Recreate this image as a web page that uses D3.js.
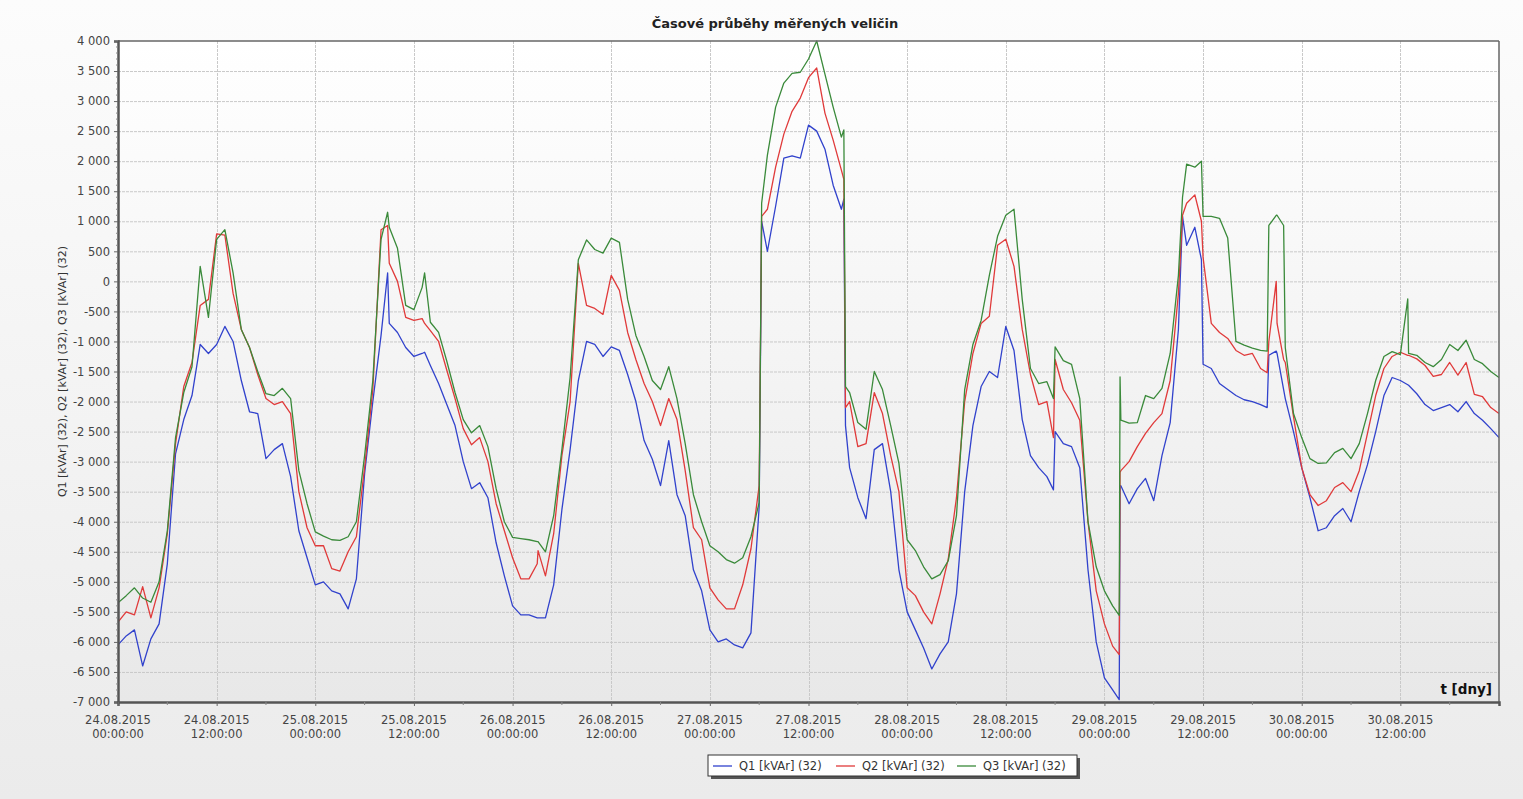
<!DOCTYPE html>
<html><head><meta charset="utf-8">
<script src="https://cdn.jsdelivr.net/npm/d3@7"></script>
<style>
html,body{margin:0;padding:0;background:#f0f0f0;}
body{width:1523px;height:799px;overflow:hidden;}
text{font-family:"DejaVu Sans",Verdana,sans-serif;}
</style></head><body>
<svg id="chart" width="1523" height="799"></svg>
<script>
const chartTitle = "Časové průběhy měřených veličin";
const yTitle = "Q1 [kVAr] (32), Q2 [kVAr] (32), Q3 [kVAr] (32)";
const xTitle = "t [dny]";
const seriesNames = ["Q1 [kVAr] (32)", "Q2 [kVAr] (32)", "Q3 [kVAr] (32)"];
const seriesColors = ["#3142cc", "#e03a3a", "#3a8a3a"];
const yTicks = d3.range(-7000, 4001, 500);
const startTime = new Date(2015, 7, 24, 0, 0, 0);
const endTime = new Date(2015, 7, 31, 0, 0, 0);

// hourly samples, hour 0 .. 168 from 24.08.2015 00:00
const hours = d3.range(0, 169);
const q1 = [
-6050,-5900,-5800,-6400,-5950,-5700,-4700,-2870,-2300,-1900,
-1050,-1200,-1050,-750,-1000,-1650,-2170,-2200,-2950,-2800,
-2700,-3250,-4150,-4600,-5050,-5000,-5150,-5200,-5450,-4950,
-3200,-2000,-900,-700,-850,-1100,-1250,-1200,-1400,-1700,
-2050,-2400,-3000,-3450,-3350,-3600,-4350,-4900,-5400,-5550,
-5550,-5600,-5600,-5050,-3800,-2800,-1650,-1000,-1050,-1250,
-1090,-1150,-1550,-2000,-2650,-2960,-3400,-2650,-3550,-3900,
-4800,-5150,-5800,-6000,-5950,-6050,-6100,-5850,-3750,500,
1250,2050,2090,2050,2600,2500,2200,1600,1200,-3100,
-3600,-3950,-2800,-2700,-3500,-4800,-5500,-5800,-6100,-6450,
-6200,-6000,-5200,-3500,-2400,-1750,-1500,-1600,-750,-1150,
-2300,-2900,-3100,-3250,-2500,-2700,-2750,-3100,-4800,-6000,
-6600,-6800,-3400,-3700,-3450,-3280,-3650,-2900,-2350,-800,
600,900,-1380,-1450,-1700,-1800,-1900,-1970,-2000,-2050,
-1230,-1200,-1950,-2500,-3100,-3600,-4150,-4100,-3900,-3780,
-4000,-3500,-3050,-2500,-1900,-1600,-1650,-1730,-1870,-2050,
-2150,-2100,-2050,-2170,-2000,-2200,-2310,-2450,-2600
];
const q2 = [
-5670,-5500,-5550,-5080,-5600,-5100,-4200,-2700,-1750,-1350,
-400,-300,790,770,-200,-800,-1100,-1550,-1950,-2050,
-2000,-2200,-3500,-4100,-4400,-4400,-4780,-4820,-4500,-4250,
-3100,-1800,860,300,0,-600,-650,-620,-820,-1000,
-1480,-1950,-2450,-2720,-2600,-3000,-3700,-4150,-4600,-4950,
-4950,-4700,-4900,-4200,-2900,-2000,300,-400,-450,-550,
100,-150,-850,-1300,-1700,-2000,-2400,-1950,-2300,-3150,
-4100,-4300,-5100,-5300,-5450,-5450,-5050,-4450,-3400,1200,
1900,2450,2830,3050,3390,3550,2800,2350,1850,-2000,
-2750,-2700,-1850,-2200,-2900,-3500,-5100,-5230,-5500,-5700,
-5200,-4620,-3600,-2000,-1200,-700,-580,600,700,250,
-800,-1550,-2050,-2000,-1300,-1800,-2020,-2310,-4000,-5150,
-5700,-6070,-3150,-3000,-2750,-2530,-2350,-2200,-1650,-200,
1300,1440,400,-700,-850,-950,-1150,-1230,-1200,-1450,
-1000,-700,-1350,-2250,-3100,-3550,-3730,-3650,-3430,-3350,
-3500,-3150,-2530,-1900,-1450,-1250,-1180,-1230,-1290,-1400,
-1580,-1550,-1350,-1560,-1350,-1880,-1920,-2100,-2200
];
const q3 = [
-5350,-5230,-5100,-5270,-5340,-5000,-4150,-2600,-1850,-1420,
250,-600,700,860,140,-800,-1100,-1500,-1870,-1900,
-1780,-1950,-3150,-3700,-4170,-4240,-4300,-4310,-4250,-4000,
-2900,-1650,700,900,550,-400,-470,-100,-680,-850,
-1330,-1850,-2300,-2520,-2400,-2750,-3450,-4000,-4260,-4280,
-4300,-4330,-4500,-3900,-2800,-1600,360,690,530,470,
720,650,-300,-900,-1250,-1650,-1800,-1420,-1950,-2700,
-3550,-4000,-4400,-4500,-4630,-4690,-4600,-4250,-3680,2100,
2900,3300,3460,3480,3700,4000,3450,2900,2400,-1850,
-2350,-2460,-1500,-1800,-2400,-3030,-4300,-4480,-4750,-4950,
-4880,-4650,-3900,-1800,-1050,-650,100,750,1100,1200,
-300,-1450,-1700,-1670,-1090,-1320,-1380,-1950,-4000,-4750,
-5150,-5400,-2310,-2360,-2350,-1900,-1950,-1780,-1200,100,
1950,1900,1080,1080,1050,720,-1000,-1060,-1110,-1150,
930,1100,-1100,-2200,-2600,-2950,-3030,-3020,-2850,-2780,
-2950,-2700,-2200,-1650,-1250,-1170,-1220,-1200,-1230,-1350,
-1420,-1300,-1050,-1150,-980,-1300,-1370,-1500,-1600
];
// extra samples at jumps and spikes (hours)
const extraHours = [32.8, 37.3, 51.1, 78.3, 88.3, 88.5, 113.8, 121.8, 121.9, 129.5, 131.8, 139.8, 140.9, 141.8, 156.9];
const q1Extra = [140, -1180, -5600, 1000, 1370, -2400, -3470, -6960, -3400, 1080, 360, -2100, -1160, -1800, -1720];
const q2Extra = [930, -700, -4480, 1080, 1700, -2100, -2600, -6210, -3180, 1100, 1000, -1520, 0, -1300, -1230];
const q3Extra = [1150, 140, -4330, 1300, 2520, -1750, -1950, -5560, -1590, 1400, 2000, -1160, 1100, 930, -290];

const W = 1523, H = 799;
const L = 118, R = 1499, T = 41, B = 702;

const svg = d3.select("#chart");
const defs = svg.append("defs");
const g1 = defs.append("linearGradient").attr("id", "bgGrad").attr("x1", 0).attr("y1", 0).attr("x2", 0).attr("y2", 1);
g1.append("stop").attr("offset", "0%").attr("stop-color", "#fcfcfc");
g1.append("stop").attr("offset", "100%").attr("stop-color", "#ebebeb");
const g2 = defs.append("linearGradient").attr("id", "plotGrad").attr("x1", 0).attr("y1", 0).attr("x2", 0).attr("y2", 1);
g2.append("stop").attr("offset", "0%").attr("stop-color", "#ffffff");
g2.append("stop").attr("offset", "100%").attr("stop-color", "#e8e8e8");
defs.append("clipPath").attr("id", "plotClip").append("rect")
  .attr("x", L).attr("y", T - 1).attr("width", R - L).attr("height", B - T + 1);

svg.append("rect").attr("width", W).attr("height", H).attr("fill", "url(#bgGrad)");
svg.append("rect").attr("x", L).attr("y", T).attr("width", R - L).attr("height", B - T).attr("fill", "url(#plotGrad)");

const x = d3.scaleTime().domain([startTime, endTime]).range([L, R]);
const y = d3.scaleLinear().domain([-7000, 4000]).range([B, T]);

const locale = d3.formatLocale({decimal: ",", thousands: " ", grouping: [3], currency: ["", ""], minus: "-"});
const fmtY = locale.format(",d");
const fmtDate = d3.timeFormat("%d.%m.%Y");
const fmtTime = d3.timeFormat("%H:%M:%S");

const xMajor = d3.timeHour.every(12).range(startTime, endTime);
const xMinor = d3.timeHour.every(6).range(startTime, endTime).filter(d => d.getHours() % 12 !== 0);

// grid
const grid = svg.append("g");
grid.selectAll("line.h").data(yTicks.filter(v => v > -7000 && v < 4000)).join("line")
  .attr("x1", L).attr("x2", R).attr("y1", d => y(d) + 0.5).attr("y2", d => y(d) + 0.5)
  .attr("stroke", "#c9c9c9").attr("stroke-width", 1).attr("stroke-dasharray", "3,1");
grid.selectAll("line.v").data(xMajor.slice(1)).join("line")
  .attr("y1", T).attr("y2", B).attr("x1", d => Math.round(x(d)) + 0.5).attr("x2", d => Math.round(x(d)) + 0.5)
  .attr("stroke", "#c9c9c9").attr("stroke-width", 1).attr("stroke-dasharray", "3,1");

// series
const toDate = h => new Date(startTime.getTime() + h * 3600e3);
function build(vals, extras) {
  const pts = hours.map((h, i) => [h, vals[i]]).concat(extraHours.map((h, i) => [h, extras[i]]));
  pts.sort((a, b) => a[0] - b[0]);
  return pts;
}
const series = [build(q1, q1Extra), build(q2, q2Extra), build(q3, q3Extra)];
const line = d3.line().x(d => x(toDate(d[0]))).y(d => y(d[1]));
const lines = svg.append("g").attr("clip-path", "url(#plotClip)");
series.forEach((s, i) => {
  lines.append("path").datum(s).attr("d", line).attr("fill", "none")
    .attr("stroke", seriesColors[i]).attr("stroke-width", 1.3).attr("stroke-linejoin", "round");
});

// frame
svg.append("line").attr("x1", L).attr("x2", R).attr("y1", T).attr("y2", T).attr("stroke", "#666").attr("stroke-width", 1.5);
svg.append("line").attr("x1", R).attr("x2", R).attr("y1", T).attr("y2", B).attr("stroke", "#666").attr("stroke-width", 1.5);

// y axis
const yAxis = d3.axisLeft(y).tickValues(yTicks).tickFormat(fmtY).tickSize(4).tickPadding(4);
const ya = svg.append("g").attr("transform", `translate(${L},0)`).call(yAxis);
ya.select(".domain").attr("stroke", "#555").attr("stroke-width", 2.5);
ya.selectAll(".tick line").attr("stroke", "#666");
ya.selectAll(".tick text").attr("fill", "#444").style("font-size", "11.5px").style("font-family", "'DejaVu Sans',Verdana,sans-serif");
svg.append("g").selectAll("line").data(d3.range(-7000, 4001, 100).filter(v => v % 500 !== 0)).join("line")
  .attr("x1", L - 2).attr("x2", L).attr("y1", d => y(d)).attr("y2", d => y(d)).attr("stroke", "#888").attr("stroke-width", 1);

// x axis
const xAxis = d3.axisBottom(x).tickValues(xMajor).tickFormat("").tickSize(4);
const xa = svg.append("g").attr("transform", `translate(0,${B})`).call(xAxis);
xa.select(".domain").attr("stroke", "#555").attr("stroke-width", 2.5);
xa.selectAll(".tick line").attr("stroke", "#666");
svg.append("g").selectAll("line").data(xMinor).join("line")
  .attr("x1", d => x(d)).attr("x2", d => x(d)).attr("y1", B).attr("y2", B + 3).attr("stroke", "#888");
const xl = svg.append("g").selectAll("text").data(xMajor).join("text")
  .attr("x", d => x(d)).attr("text-anchor", "middle").attr("fill", "#444").style("font-size", "11.5px");
xl.append("tspan").attr("x", d => x(d)).attr("y", 724).text(d => fmtDate(d));
xl.append("tspan").attr("x", d => x(d)).attr("y", 738).text(d => fmtTime(d));

// titles
svg.append("text").attr("x", 775).attr("y", 28).attr("text-anchor", "middle")
  .attr("fill", "#222").style("font-size", "13px").style("font-weight", "bold").text(chartTitle);
svg.append("text").attr("transform", `translate(66,${(T + B) / 2}) rotate(-90)`).attr("text-anchor", "middle")
  .attr("fill", "#333").style("font-size", "11px").text(yTitle);
svg.append("text").attr("x", R - 7).attr("y", 694).attr("text-anchor", "end")
  .attr("fill", "#111").style("font-size", "13.5px").style("font-weight", "bold").text(xTitle);

// legend
const lg = svg.append("g");
const lgX = 708, lgY = 755, lgW = 369, lgH = 21;
lg.append("rect").attr("x", lgX + 3).attr("y", lgY + 3).attr("width", lgW).attr("height", lgH).attr("fill", "#555");
lg.append("rect").attr("x", lgX).attr("y", lgY).attr("width", lgW).attr("height", lgH).attr("fill", "#fff").attr("stroke", "#333").attr("stroke-width", 1);
const itemX = [713, 836, 957];
seriesNames.forEach((n, i) => {
  lg.append("line").attr("x1", itemX[i]).attr("x2", itemX[i] + 19).attr("y1", lgY + 11).attr("y2", lgY + 11)
    .attr("stroke", seriesColors[i]).attr("stroke-width", 1.3);
  lg.append("text").attr("x", itemX[i] + 26).attr("y", lgY + 15).attr("fill", "#333").style("font-size", "11.5px").text(n);
});
</script>
</body></html>
